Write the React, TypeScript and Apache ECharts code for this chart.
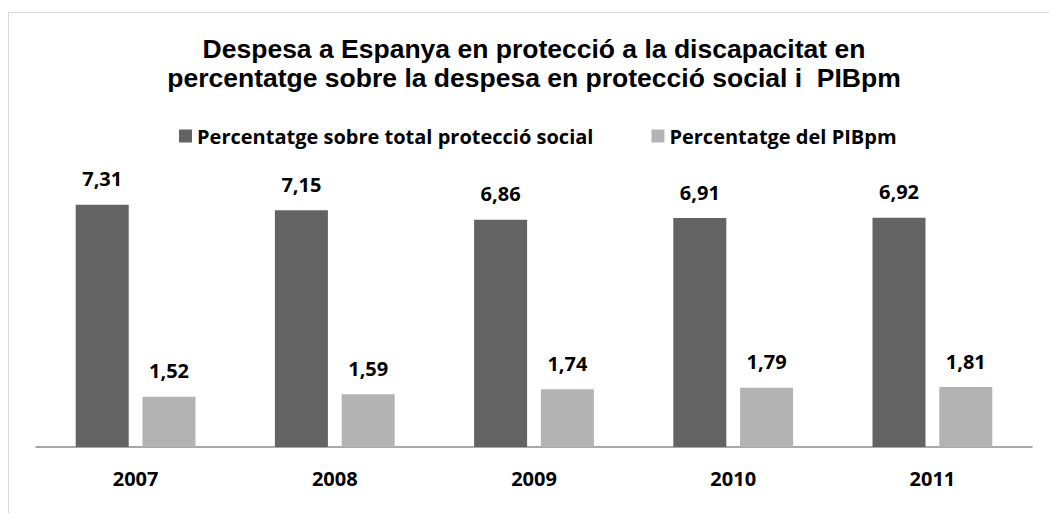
import React, { useEffect, useRef } from "react";
import * as echarts from "echarts";

const years = ["2007", "2008", "2009", "2010", "2011"];
const socialShare = [7.31, 7.15, 6.86, 6.91, 6.92];
const gdpShare = [1.52, 1.59, 1.74, 1.79, 1.81];
const seriesNames = ["Percentatge sobre total protecció social", "Percentatge del PIBpm"];
const titleText =
  "Despesa a Espanya en protecció a la discapacitat en\npercentatge sobre la despesa en protecció social i  PIBpm";

const LABEL_FONT = "'Open Sans', Lato, sans-serif";

export default function App() {
  const ref = useRef<HTMLDivElement>(null);
  useEffect(() => {
    document.body.style.margin = "0";
    if (!ref.current) return;
    const chart = echarts.init(ref.current, undefined, { renderer: "svg" });
    const fmt = (p: any) => Number(p.value).toFixed(2).replace(".", ",");
    const label = {
      show: true,
      position: "top" as const,
      distance: 16,
      formatter: fmt,
      fontFamily: LABEL_FONT,
      fontWeight: "bold" as const,
      fontSize: 20,
      color: "#000",
    };
    chart.setOption({
      animation: false,
      backgroundColor: "#fff",
      graphic: [
        {
          type: "rect",
          shape: { x: 8.5, y: 12.5, width: 1200, height: 700 },
          style: { fill: "none", stroke: "#d9d9d9", lineWidth: 1 },
          silent: true,
        },
      ],
      title: {
        text: titleText,
        left: 534,
        textAlign: "center",
        top: 34,
        padding: 0,
        textStyle: {
          fontFamily: "'Liberation Sans', Arial, sans-serif",
          fontWeight: "bold",
          fontSize: 26.5,
          lineHeight: 29,
          color: "#000",
        },
      },
      legend: {
        data: seriesNames,
        left: 179,
        top: 126,
        padding: 0,
        icon: "rect",
        itemWidth: 13,
        itemHeight: 13,
        itemGap: 58,
        textStyle: {
          fontFamily: LABEL_FONT,
          fontWeight: "bold",
          fontSize: 20,
          color: "#000",
          padding: [0, 0, 0, 0],
        },
      },
      grid: { left: 36, right: 17, top: 182, bottom: 66 },
      xAxis: {
        type: "category",
        data: years,
        axisLine: { lineStyle: { color: "#8c8c8c", width: 1.5 } },
        axisTick: { show: false },
        axisLabel: {
          margin: 21,
          fontFamily: LABEL_FONT,
          fontWeight: "bold",
          fontSize: 20,
          color: "#000",
        },
      },
      yAxis: { type: "value", min: 0, max: 8, show: false },
      series: [
        {
          name: seriesNames[0],
          type: "bar",
          data: socialShare,
          barWidth: 53,
          barGap: "26%",
          itemStyle: { color: "#636363" },
          label,
        },
        {
          name: seriesNames[1],
          type: "bar",
          data: gdpShare,
          barWidth: 53,
          itemStyle: { color: "#b3b3b3" },
          label,
        },
      ],
    });
    return () => chart.dispose();
  }, []);
  return <div ref={ref} style={{ width: 1049, height: 513 }} />;
}
